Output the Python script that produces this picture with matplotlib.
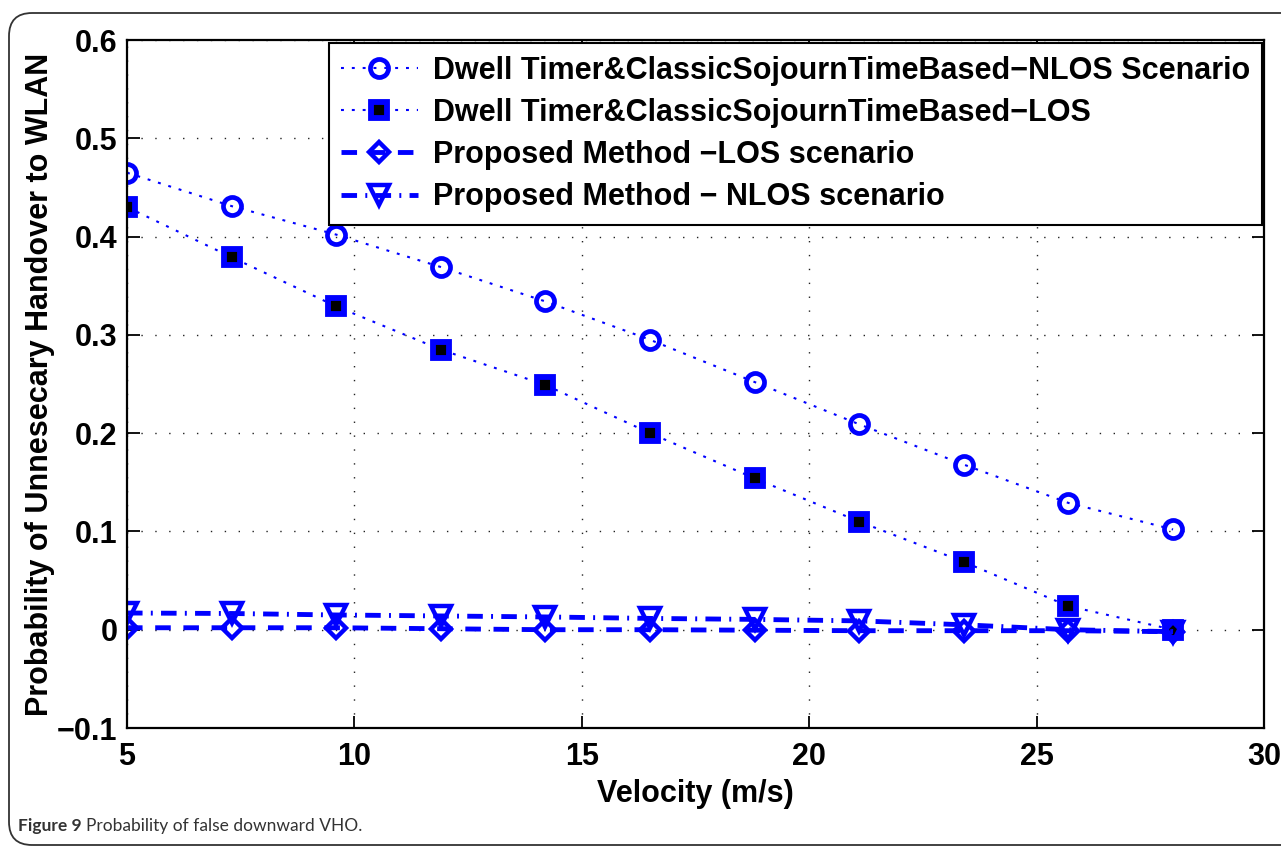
import matplotlib
matplotlib.use("Agg")
import matplotlib.pyplot as plt
from matplotlib.patches import FancyBboxPatch

velocity = [5.0, 7.3, 9.6, 11.9, 14.2, 16.5, 18.8, 21.1, 23.4, 25.7, 28.0]
dwell_nlos = [0.465, 0.431, 0.402, 0.369, 0.334, 0.295, 0.252, 0.209, 0.168, 0.129, 0.102]
dwell_los = [0.430, 0.379, 0.329, 0.285, 0.249, 0.200, 0.154, 0.110, 0.069, 0.024, 0.000]
proposed_los = [0.002, 0.002, 0.002, 0.001, 0.000, 0.000, -0.0005, -0.001, -0.001, -0.001, -0.002]
proposed_nlos = [0.017, 0.0165, 0.015, 0.014, 0.013, 0.0115, 0.0105, 0.009, 0.005, 0.000, -0.002]

labels = ["Dwell Timer&ClassicSojournTimeBased\u2212NLOS Scenario",
          "Dwell Timer&ClassicSojournTimeBased\u2212LOS",
          "Proposed Method \u2212LOS scenario",
          "Proposed Method \u2212 NLOS scenario"]
xticks = [5, 10, 15, 20, 25, 30]
yticks = [-0.1, 0, 0.1, 0.2, 0.3, 0.4, 0.5, 0.6]
ytick_labels = ["\u22120.1", "0", "0.1", "0.2", "0.3", "0.4", "0.5", "0.6"]

plt.rcParams['font.family'] = ['Liberation Sans', 'DejaVu Sans']
plt.rcParams['font.weight'] = 'bold'

fig = plt.figure(figsize=(12.81, 8.48), dpi=100)
frame = FancyBboxPatch((9/1281, 3/848), 1.05, 832/848, boxstyle="round,pad=0,rounding_size=0.018",
                       transform=fig.transFigure, fill=False, edgecolor='#333333', linewidth=1.3,
                       mutation_aspect=1281/848)
fig.patches.append(frame)

ax = fig.add_axes([127/1281, 1 - 728/848, (1264 - 127)/1281, (728 - 40)/848])
blue = (0, 0, 1)

ax.plot(velocity, dwell_nlos, color=blue, linestyle=(0, (1.4, 3.8)), linewidth=1.5,
        marker='o', markersize=13, markeredgewidth=3.4, markerfacecolor='none',
        markeredgecolor=blue, label=labels[0])
ax.plot(velocity, dwell_los, color=blue, linestyle=(0, (1.4, 3.8)), linewidth=1.5,
        marker='s', markersize=11, markeredgewidth=4.2, markerfacecolor='black',
        markeredgecolor=blue, label=labels[1])
ax.plot(velocity, proposed_los, color=blue, linestyle=(0, (3.2, 2.6)), linewidth=3.5,
        marker='D', markersize=10, markeredgewidth=3.2, markerfacecolor='none',
        markeredgecolor=blue, label=labels[2])
ax.plot(velocity, proposed_nlos, color=blue, linestyle=(0, (3.2, 1.7, 0.4, 1.7)), linewidth=3.5,
        marker='v', markersize=15, markeredgewidth=3.2, markerfacecolor='none',
        markeredgecolor=blue, label=labels[3])

ax.set_xlim(5, 30)
ax.set_ylim(-0.1, 0.6)
ax.set_xticks(xticks)
ax.set_xticklabels([str(t) for t in xticks])
ax.set_yticks(yticks)
ax.set_yticklabels(ytick_labels)
ax.tick_params(direction='in', length=9, width=1.3, labelsize=22, top=True, right=True)
ax.tick_params(axis='x', pad=10)
ax.tick_params(axis='y', pad=7)
for lab in ax.get_xticklabels() + ax.get_yticklabels():
    lab.set_fontweight('bold')
for sp in ax.spines.values():
    sp.set_linewidth(1.6)

ax.grid(True, color='#222222', linestyle=(0, (1, 9)), linewidth=1.0)
ax.set_axisbelow(True)

ax.set_xlabel("Velocity (m/s)", fontsize=22, fontweight='bold', labelpad=5)
ax.set_ylabel("Probability of Unnesecary Handover to WLAN", fontsize=22, fontweight='bold', labelpad=1.5)

leg = ax.legend(loc='upper right', bbox_to_anchor=(0.9985, 0.995), fontsize=22, frameon=True,
                fancybox=False, edgecolor='black', framealpha=1, handlelength=2.5,
                handletextpad=0.5, labelspacing=0.4, borderpad=0.4, borderaxespad=0)
leg.get_frame().set_linewidth(1.5)
for t in leg.get_texts():
    t.set_fontweight('bold')

fig.text(18/1281, 1 - 826/848, "Figure 9", fontsize=12.5, fontweight='bold', color='#333333',
         family=['Lato', 'DejaVu Sans'], va='center')
fig.text(86/1281, 1 - 826/848, "Probability of false downward VHO.", fontsize=12.5, fontweight='normal',
         color='#333333', family=['Lato', 'DejaVu Sans'], va='center')

fig.savefig("out.png", dpi=100)
